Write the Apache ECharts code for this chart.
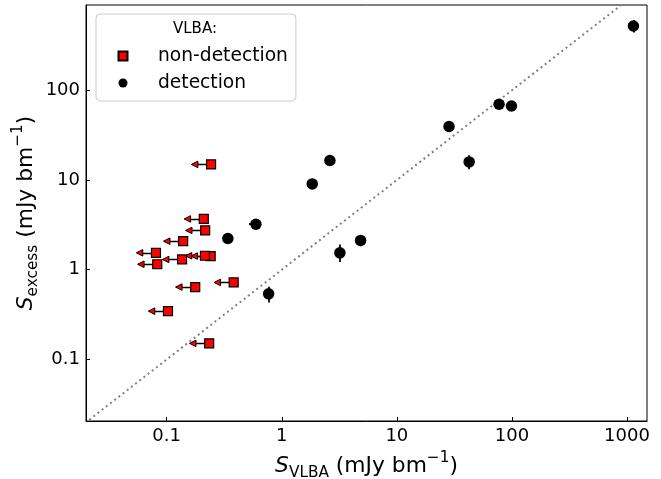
<!DOCTYPE html>
<html>
<head>
<meta charset="utf-8">
<script src="https://cdn.jsdelivr.net/npm/echarts@6/dist/echarts.min.js"></script>
<style>
html,body{margin:0;padding:0;background:#fff;}
#chart{width:661px;height:479px;}
</style>
</head>
<body>
<div id="chart"></div>
<script>
// ---- data ----
// VLBA non-detections: upper limits on S_VLBA
const nonDetX = [0.243, 0.210, 0.216, 0.139, 0.0807, 0.136, 0.241, 0.215, 0.0828, 0.382, 0.177, 0.1026, 0.234];
const nonDetY = [14.9, 3.68, 2.74, 2.08, 1.54, 1.30, 1.42, 1.43, 1.15, 0.721, 0.640, 0.345, 0.151];
// VLBA detections
const detX   = [0.340, 0.596, 0.769, 1.84, 2.62, 3.20, 4.84, 28.4, 42.5, 77.3, 99.1, 1137];
const detY   = [2.23, 3.21, 0.538, 9.04, 16.5, 1.54, 2.12, 39.4, 15.9, 69.8, 66.8, 520];
const detYLo = [null, null, 0.432, null, null, 1.22, 1.83, null, 13.2, null, null, 440];
const detYHi = [null, null, 0.644, null, null, 1.91, 2.38, null, 18.9, null, null, 603];
const detXLo = [null, 0.519, null, null, null, null, null, null, null, null, null, null];
// one-to-one reference line extent
const oneToOne = [0.01, 2000];
// axis ranges
const xRange = [0.0199, 1492];
const yRange = [0.0206, 891];
// limit-arrow end as a fraction of the value
const arrowEnd = 0.72;

const FONT = 'DejaVu Sans';

const arrowLines = nonDetX.map((x, i) => ({coords: [[x, nonDetY[i]], [x * arrowEnd, nonDetY[i]]]}));
const arrowHeads = nonDetX.map((x, i) => [x * arrowEnd, nonDetY[i]]);
const errLines = [];
detX.forEach((x, i) => {
  if (detYLo[i] != null) errLines.push({coords: [[x, detYLo[i]], [x, detYHi[i]]]});
  if (detXLo[i] != null) errLines.push({coords: [[detXLo[i], detY[i]], [x, detY[i]]]});
});

const fmt = v => String(+(+v).toPrecision(6));

const nameRich = {
  s: {fontFamily: FONT, fontSize: 21.8, fontStyle: 'italic', lineHeight: 30, verticalAlign: 'middle', color: '#000'},
  n: {fontFamily: FONT, fontSize: 21.8, lineHeight: 30, verticalAlign: 'middle', color: '#000'},
  sub: {fontFamily: FONT, fontSize: 15.3, lineHeight: 18, verticalAlign: 'bottom', color: '#000'},
  sup: {fontFamily: FONT, fontSize: 15.3, lineHeight: 15, verticalAlign: 'top', color: '#000'}
};

const chart = echarts.init(document.getElementById('chart'), null, {renderer: 'canvas'});
chart.setOption({
  animation: false,
  backgroundColor: '#fff',
  grid: {left: 86, top: 5, right: 14, bottom: 58, containLabel: false, outerBoundsMode: 'none',
         show: true, borderColor: '#000', borderWidth: 1, backgroundColor: 'transparent'},
  xAxis: {
    type: 'log', logBase: 10, min: xRange[0], max: xRange[1],
    name: '{s|S}{sub|VLBA}{n| (mJy bm}{sup|−1}{n|)}',
    nameLocation: 'middle', nameGap: 30, nameMoveOverlap: false,
    nameTextStyle: {rich: nameRich},
    axisLine: {show: true, lineStyle: {color: '#000', width: 1}},
    axisTick: {show: true, inside: true, length: 4, lineStyle: {color: '#000', width: 1}},
    minorTick: {show: false},
    splitLine: {show: false},
    axisLabel: {fontFamily: FONT, fontSize: 18, color: '#000', margin: 6, showMinLabel: false, showMaxLabel: false, formatter: fmt}
  },
  yAxis: {
    type: 'log', logBase: 10, min: yRange[0], max: yRange[1],
    name: '{s|S}{sub|excess}{n| (mJy bm}{sup|−1}{n|)}',
    nameLocation: 'middle', nameGap: 45, nameMoveOverlap: false,
    nameTextStyle: {rich: nameRich},
    axisLine: {show: true, lineStyle: {color: '#000', width: 1}},
    axisTick: {show: true, inside: true, length: 4, lineStyle: {color: '#000', width: 1}},
    minorTick: {show: false},
    splitLine: {show: false},
    axisLabel: {fontFamily: FONT, fontSize: 18, color: '#000', margin: 6, showMinLabel: false, showMaxLabel: false, formatter: fmt}
  },
  legend: {
    orient: 'vertical', left: 96, top: 14,
    padding: [32, 8, 8, 21.5],
    itemWidth: 9, itemHeight: 9, itemGap: 7,
    borderColor: '#cccccc', borderWidth: 1, borderRadius: 4,
    backgroundColor: 'rgba(255,255,255,0.8)',
    textStyle: {fontFamily: FONT, fontSize: 18.67, color: '#000', lineHeight: 20, padding: [0, 0, 0, 25.5]},
    data: [{name: 'non-detection', icon: 'rect'}, {name: 'detection', icon: 'circle'}]
  },
  graphic: [{
    type: 'text', left: 195 - 22, top: 22, z: 100,
    style: {text: 'VLBA:', fontFamily: FONT, fontSize: 15, fill: '#000'}
  }],
  series: [
    {
      name: 'one-to-one', type: 'line', data: oneToOne.map(v => [v, v]),
      symbol: 'none', silent: true, z: 1, clip: true,
      lineStyle: {color: '#808080', width: 2, type: [2, 3.3]}
    },
    {
      name: 'limit arrows', type: 'lines', coordinateSystem: 'cartesian2d', data: arrowLines,
      silent: true, z: 2,
      lineStyle: {color: '#000', width: 1.3, opacity: 1}
    },
    {
      name: 'limit heads', type: 'scatter', data: arrowHeads, silent: true, z: 3,
      symbol: 'triangle', symbolRotate: 90, symbolSize: [6.5, 6.5],
      itemStyle: {color: '#ff0000', borderColor: '#000', borderWidth: 1, opacity: 1}
    },
    {
      name: 'non-detection', type: 'scatter', data: nonDetX.map((x, i) => [x, nonDetY[i]]), z: 4,
      symbol: 'rect', symbolSize: 9,
      itemStyle: {color: '#ff0000', borderColor: '#000', borderWidth: 1.2, opacity: 1}
    },
    {
      name: 'error bars', type: 'lines', coordinateSystem: 'cartesian2d', data: errLines,
      silent: true, z: 5,
      lineStyle: {color: '#000', width: 1.8, opacity: 1}
    },
    {
      name: 'detection', type: 'scatter', data: detX.map((x, i) => [x, detY[i]]), z: 6,
      symbol: 'circle', symbolSize: 11.5,
      itemStyle: {color: '#000', opacity: 1}
    }
  ]
});
</script>
</body>
</html>
